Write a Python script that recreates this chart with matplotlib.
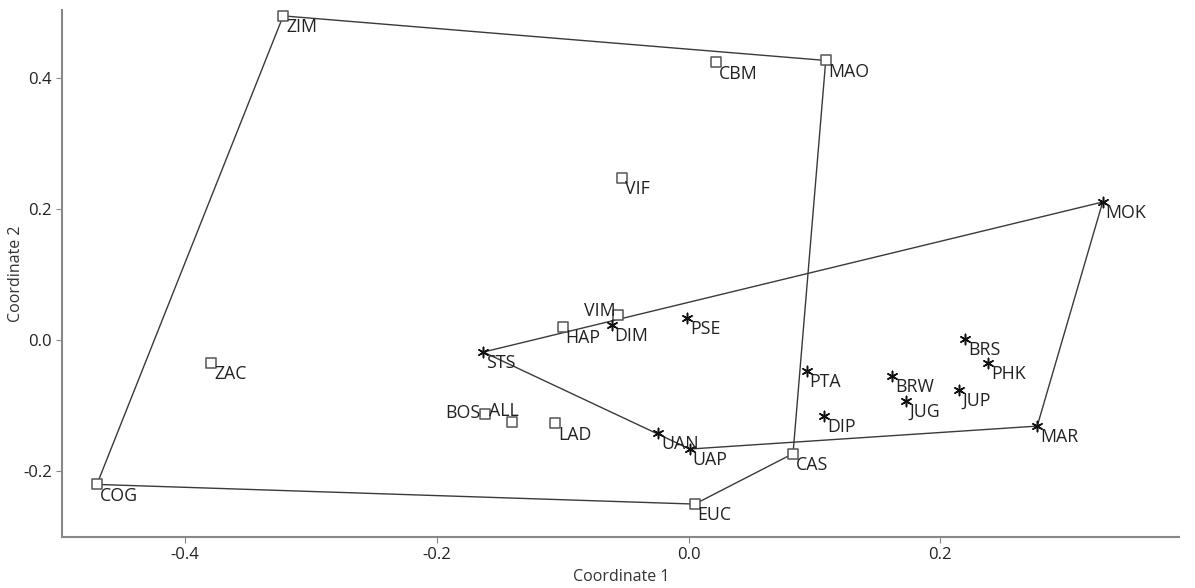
import numpy as np
import matplotlib.pyplot as plt

plt.rcParams['font.family'] = ['Open Sans', 'DejaVu Sans']

# NMDS coordinates, group 1 (squares)
sq_names = ['ZIM', 'MAO', 'CBM', 'VIF', 'ZAC', 'COG', 'EUC', 'CAS',
            'HAP', 'VIM', 'BOS', 'ALL', 'LAD']
sq_x = [-0.322, 0.109, 0.022, -0.053, -0.379, -0.470, 0.005, 0.083,
        -0.100, -0.056, -0.162, -0.140, -0.106]
sq_y = [0.495, 0.427, 0.424, 0.247, -0.035, -0.220, -0.250, -0.173,
        0.020, 0.038, -0.113, -0.125, -0.127]

# group 2 (stars)
st_names = ['MOK', 'MAR', 'STS', 'DIM', 'PSE', 'UAN', 'UAP', 'PTA',
            'DIP', 'BRW', 'JUG', 'BRS', 'PHK', 'JUP']
st_x = [0.329, 0.277, -0.163, -0.061, -0.001, -0.024, 0.001, 0.094,
        0.108, 0.162, 0.173, 0.220, 0.238, 0.215]
st_y = [0.211, -0.131, -0.018, 0.024, 0.034, -0.142, -0.166, -0.047,
        -0.116, -0.055, -0.092, 0.002, -0.034, -0.076]

# labels that sit somewhere other than lower right (offset in points, ha, va)
label_pos = {
    'BOS': ((-3, 1), 'right', 'center'),
    'ALL': ((-17, 8), 'left', 'center'),
    'VIM': ((-2, 3), 'right', 'center'),
}


def hull(xs, ys):
    pts = sorted(zip(xs, ys))

    def cross(o, a, b):
        return (a[0] - o[0]) * (b[1] - o[1]) - (a[1] - o[1]) * (b[0] - o[0])

    lower, upper = [], []
    for p in pts:
        while len(lower) >= 2 and cross(lower[-2], lower[-1], p) <= 0:
            lower.pop()
        lower.append(p)
    for p in reversed(pts):
        while len(upper) >= 2 and cross(upper[-2], upper[-1], p) <= 0:
            upper.pop()
        upper.append(p)
    h = lower[:-1] + upper[:-1]
    h.append(h[0])
    return np.array(h)


fig = plt.figure(figsize=(11.95, 5.88), dpi=100)
ax = fig.add_axes([0.052, 0.087, 0.935, 0.896])

for xs, ys in [(sq_x, sq_y), (st_x, st_y)]:
    h = hull(xs, ys)
    ax.plot(h[:, 0], h[:, 1], color='#3a3a3a', lw=1.0, zorder=1)

ax.scatter(sq_x, sq_y, marker='s', s=55, facecolors='white',
           edgecolors='#555555', linewidths=1.1, zorder=3)
# six-armed asterisk
ax.scatter(st_x, st_y, marker=(6, 2, 0), s=55, color='#111111',
           linewidths=1.1, zorder=3)

for names, xs, ys in [(sq_names, sq_x, sq_y), (st_names, st_x, st_y)]:
    for n, x, y in zip(names, xs, ys):
        off, ha, va = label_pos.get(n, ((2, -1.5), 'left', 'top'))
        ax.annotate(n, (x, y), xytext=off, textcoords='offset points',
                    ha=ha, va=va, fontsize=12.8, color='#222222', zorder=4)

ax.set_xlim(-0.4976, 0.39)
ax.set_ylim(-0.30, 0.504)
ax.set_xticks([-0.4, -0.2, 0.0, 0.2])
ax.set_yticks([-0.2, 0.0, 0.2, 0.4])
ax.set_xticklabels(['-0.4', '-0.2', '0.0', '0.2'])
ax.set_yticklabels(['-0.2', '0.0', '0.2', '0.4'])
ax.set_xlabel('Coordinate 1', fontsize=11.5, color='#333333', labelpad=4)
ax.set_ylabel('Coordinate 2', fontsize=11.5, color='#333333', labelpad=-1)

for s in ['top', 'right']:
    ax.spines[s].set_visible(False)
for s in ['left', 'bottom']:
    ax.spines[s].set_color('#888888')
    ax.spines[s].set_linewidth(1.5)
ax.tick_params(length=4, color='#888888', labelsize=12, labelcolor='#222222')

fig.savefig('out.png', dpi=100)
